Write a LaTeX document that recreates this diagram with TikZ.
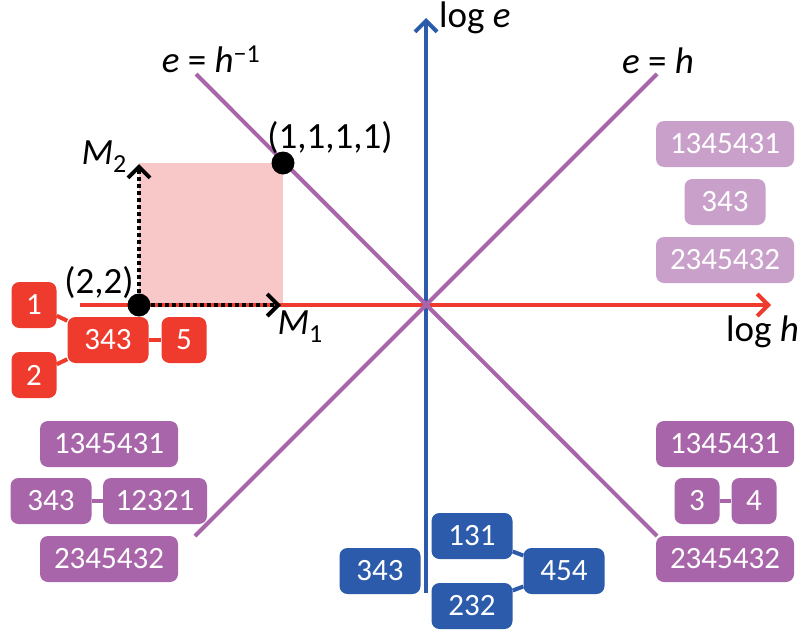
\documentclass[tikz,border=0pt]{standalone}
\usepackage{fontspec}
\setmainfont{Carlito}
\usetikzlibrary{arrows.meta}

\definecolor{boxred}{HTML}{EE3B2D}
\definecolor{boxpurple}{HTML}{A865A9}
\definecolor{boxlilac}{HTML}{C9A0CA}
\definecolor{boxblue}{HTML}{2B5BAA}
\definecolor{cellpink}{HTML}{F8C8C8}

\newcommand{\lowsub}[1]{\raisebox{-0.45ex}{\fontsize{26}{26}\selectfont #1}}

\begin{document}
\begin{tikzpicture}[x=1pt, y=-1pt,
      box/.style={rounded corners=8pt, minimum height=46pt, inner sep=0pt,
                  text=white, font=\fontsize{31}{34}\selectfont},
      w1/.style={box, minimum width=45pt},
      w3/.style={box, minimum width=81pt},
      w5/.style={box, minimum width=104pt},
      w7/.style={box, minimum width=138pt},
      lbl/.style={font=\fontsize{37}{40}\selectfont, inner sep=0pt},
      link/.style={line width=4pt},
      diag/.style={line width=4pt, boxpurple},
      dotarrow/.style={line width=4pt, dash pattern=on 4pt off 3pt, black},
      dot/.style={circle, fill=black, minimum size=23pt, inner sep=0pt},
      >={Straight Barb[length=11pt, width=22pt]}]

    \useasboundingbox (0,0) rectangle (801,632);

    \fill[cellpink] (139,163) rectangle (283,305);

    % axes, then the two diagonals on top
    \coordinate (hleft) at (80,305);
    \coordinate (hright) at (771,305);
    \coordinate (ebottom) at (426,593);
    \coordinate (etop) at (426,18);
    \draw[link, boxred, ->] (hleft) -- (hright);
    \draw[link, boxblue, ->] (ebottom) -- (etop);

    \coordinate (nw) at (196,74);
    \coordinate (se) at (657,536);
    \coordinate (ne) at (657,74);
    \coordinate (sw) at (195,536);
    \draw[diag] (nw) -- (se);
    \draw[diag] (sw) -- (ne);

    \node[lbl, anchor=base west] (loge) at (439,27) {log \textit{e}};
    \node[lbl, anchor=west] (logh) at (726,332) {log \textit{h}};
    \node[lbl, anchor=base] (inv) at (211,72) {\textit{e} = \textit{h}\textsuperscript{\char"2212 1}};
    \node[lbl, anchor=base] (diagon) at (658,73) {\textit{e} = \textit{h}};

    % the cell spanned by M1 and M2
    \node[dot] (p22) at (139,305) {};
    \node[dot] (p1111) at (283,163) {};
    \coordinate (m1tip) at (281,305);
    \coordinate (m2tip) at (139,164);
    \draw[dotarrow, ->] (p22) -- (m1tip);
    \draw[dotarrow, ->] (p22) -- (m2tip);
    \node[lbl] (l22) at (99,283) {(2,2)};
    \node[lbl] (l1111) at (330,138) {(1,1,1,1)};
    \node[lbl] (m2) at (104,157) {\textit{M}\lowsub{2}};
    \node[lbl] (m1) at (300,327) {\textit{M}\lowsub{1}};

    % red graph
    \node[w1, fill=boxred] (r1) at (34,305) {1};
    \node[w1, fill=boxred] (r2) at (34,375) {2};
    \node[w3, fill=boxred] (r343) at (108,340) {343};
    \node[w1, fill=boxred] (r5) at (184,340) {5};
    \draw[link, boxred] (r1) -- (r343);
    \draw[link, boxred] (r2) -- (r343);
    \draw[link, boxred] (r343) -- (r5);

    % lower left
    \node[w7, fill=boxpurple] (a1) at (109,444) {1345431};
    \node[w3, fill=boxpurple] (a2) at (51,501) {343};
    \node[w5, fill=boxpurple] (a3) at (155,501) {12321};
    \node[w7, fill=boxpurple] (a4) at (109,559) {2345432};
    \draw[link, boxpurple] (a2) -- (a3);

    % lower right
    \node[w7, fill=boxpurple] (b1) at (725,444) {1345431};
    \node[w1, fill=boxpurple] (b2) at (697,501) {3};
    \node[w1, fill=boxpurple] (b3) at (754,501) {4};
    \node[w7, fill=boxpurple] (b4) at (725,559) {2345432};
    \draw[link, boxpurple] (b2) -- (b3);

    % upper right
    \node[w7, fill=boxlilac] (c1) at (725,144) {1345431};
    \node[w3, fill=boxlilac] (c2) at (725,202) {343};
    \node[w7, fill=boxlilac] (c3) at (725,260) {2345432};

    % blue graph
    \node[w3, fill=boxblue] (d1) at (380,571) {343};
    \node[w3, fill=boxblue] (d2) at (472,536) {131};
    \node[w3, fill=boxblue] (d3) at (472,606) {232};
    \node[w3, fill=boxblue] (d4) at (564,571) {454};
    \draw[link, boxblue] (d2) -- (d4);
    \draw[link, boxblue] (d3) -- (d4);
  \end{tikzpicture}
\end{document}
